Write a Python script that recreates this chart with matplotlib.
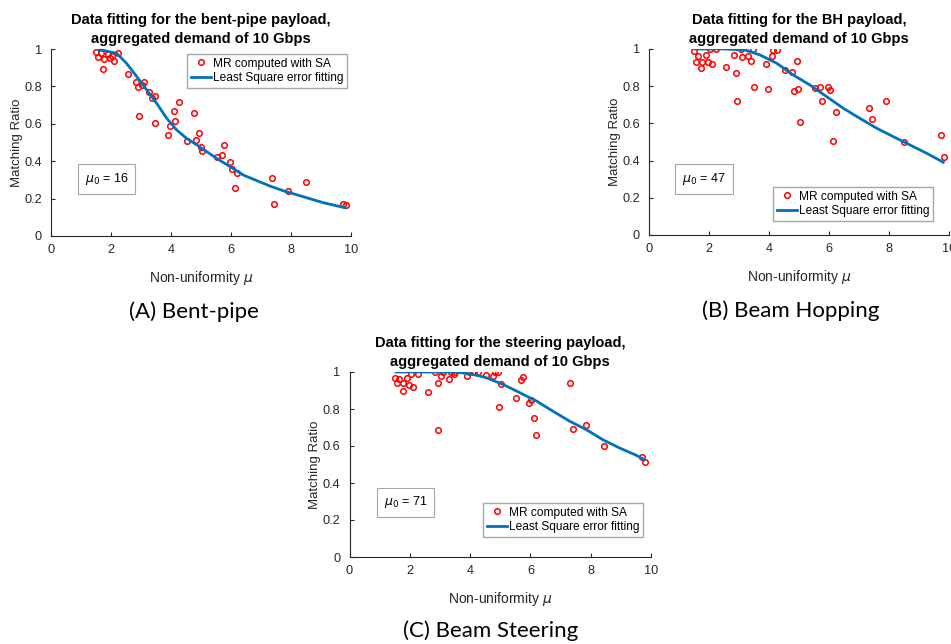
import numpy as np
import matplotlib
matplotlib.use('Agg')
import matplotlib.pyplot as plt
from matplotlib.ticker import FuncFormatter

# %% Data

# (A) bent-pipe payload
x_bp = [1.50, 1.66, 1.58, 1.90, 2.04, 1.78, 1.97, 2.11, 2.24, 1.74, 2.58, 2.83, 3.11, 3.03, 2.91,
        3.28, 3.48, 3.38, 2.92, 3.48, 4.27, 4.11, 4.77, 4.14, 3.97, 3.90, 4.54, 4.94, 4.83, 4.99,
        5.02, 5.76, 5.71, 5.54, 5.98, 6.04, 6.21, 6.12, 7.36, 7.43, 7.89, 8.49, 9.74, 9.84]
y_bp = [0.984, 0.978, 0.959, 0.973, 0.961, 0.946, 0.950, 0.935, 0.980, 0.892, 0.867, 0.826, 0.821,
        0.806, 0.799, 0.772, 0.749, 0.737, 0.642, 0.602, 0.715, 0.667, 0.656, 0.615, 0.586, 0.538,
        0.507, 0.552, 0.514, 0.475, 0.452, 0.489, 0.434, 0.421, 0.394, 0.358, 0.337, 0.258, 0.310,
        0.170, 0.242, 0.287, 0.172, 0.165]
xfit_bp = [1.52, 2.19, 2.52, 2.86, 3.19, 3.52, 3.86, 4.19, 4.52, 4.86, 5.19, 5.52, 5.97, 6.41,
           6.86, 7.30, 7.74, 8.41, 9.08, 9.80]
yfit_bp = [1.00, 0.977, 0.923, 0.852, 0.781, 0.710, 0.629, 0.567, 0.522, 0.487, 0.451, 0.415,
           0.371, 0.326, 0.296, 0.267, 0.242, 0.210, 0.178, 0.151]

# (B) beam hopping payload
x_bh = [1.51, 1.58, 1.64, 1.74, 1.78, 1.90, 1.97, 2.04, 2.11, 2.24, 2.58, 2.84, 2.91, 2.92, 3.06,
        3.11, 3.30, 3.39, 3.48, 3.49, 3.90, 3.96, 4.11, 4.14, 4.27, 4.54, 4.77, 4.93, 4.82, 4.98,
        5.02, 5.53, 5.71, 5.76, 5.98, 6.04, 6.22, 6.12, 7.34, 7.43, 7.89, 8.49, 9.74, 9.83]
y_bh = [0.989, 0.928, 0.960, 0.898, 0.928, 0.969, 0.928, 0.998, 0.919, 1.000, 0.905, 0.969, 0.871,
        0.719, 0.998, 0.959, 0.960, 0.934, 1.000, 0.794, 0.919, 0.785, 0.964, 0.995, 0.993, 0.889,
        0.878, 0.937, 0.772, 0.783, 0.607, 0.788, 0.797, 0.722, 0.795, 0.777, 0.659, 0.508, 0.683,
        0.622, 0.719, 0.500, 0.539, 0.419]
xfit_bh = [1.53, 2.50, 3.20, 3.70, 4.26, 4.81, 5.37, 5.92, 6.48, 7.03, 7.59, 8.14, 8.70, 9.26,
           9.81]
yfit_bh = [1.00, 1.00, 0.995, 0.968, 0.923, 0.860, 0.806, 0.744, 0.681, 0.627, 0.574, 0.529,
           0.484, 0.439, 0.391]

# (C) steering payload
x_st = [1.52, 1.58, 1.65, 1.76, 1.79, 1.90, 1.98, 2.05, 2.12, 2.26, 2.59, 2.84, 2.92, 2.93, 3.05,
        3.11, 3.29, 3.38, 3.47, 3.50, 3.89, 3.97, 4.10, 4.13, 4.27, 4.53, 4.75, 4.82, 4.93, 5.01,
        4.97, 5.53, 5.70, 5.74, 5.96, 6.01, 6.11, 6.20, 7.31, 7.40, 7.85, 8.45, 9.70, 9.79]
y_st = [0.969, 0.940, 0.962, 0.900, 0.940, 0.966, 0.931, 0.989, 0.920, 0.989, 0.890, 0.998, 0.940,
        0.689, 0.980, 1.000, 0.960, 1.000, 0.989, 1.000, 0.978, 1.000, 1.000, 1.000, 1.000, 0.985,
        0.980, 1.000, 1.000, 0.935, 0.810, 0.862, 0.957, 0.973, 0.833, 0.846, 0.752, 0.660, 0.938,
        0.691, 0.713, 0.600, 0.539, 0.512]
xfit_st = [1.54, 3.20, 3.60, 3.99, 4.54, 5.09, 5.65, 6.20, 6.75, 7.30, 7.85, 8.40, 8.96, 9.51,
           9.78]
yfit_st = [1.00, 1.00, 0.998, 0.991, 0.969, 0.933, 0.888, 0.843, 0.788, 0.734, 0.689, 0.634,
           0.589, 0.550, 0.526]

titles = ['Data fitting for the bent-pipe payload,\naggregated demand of 10 Gbps',
          'Data fitting for the BH payload,\naggregated demand of 10 Gbps',
          'Data fitting for the steering payload,\naggregated demand of 10 Gbps']
mu0 = [16, 47, 71]
captions = ['(A) Bent-pipe', '(B) Beam Hopping', '(C) Beam Steering']

# %% Layout (pixels in a 951x644 figure)

W, H = 951, 644
# axes: left, top, right, bottom
ax_px = [(51, 49, 351, 236), (649, 49, 949, 235), (349.5, 372, 651, 557)]
legend_ur = [(347, 54), (933, 187), (643, 503)]
box_center = [(106.7, 179.3), (704, 179), (405.5, 502.5)]
caption_xy = [(194, 312), (791, 311), (491, 631)]

col_ax = '#262626'
col_fit = '#0072BD'

plt.rcParams['font.family'] = ['Liberation Sans', 'DejaVu Sans']
plt.rcParams['mathtext.fontset'] = 'dejavusans'

fig = plt.figure(figsize=(W/100, H/100), dpi=100)

data = [(x_bp, y_bp, xfit_bp, yfit_bp),
        (x_bh, y_bh, xfit_bh, yfit_bh),
        (x_st, y_st, xfit_st, yfit_st)]

for i, (xs, ys, xf, yf) in enumerate(data):
    l, t, r, b = ax_px[i]
    ax = fig.add_axes([l/W, 1 - b/H, (r - l)/W, (b - t)/H])
    ax.plot(xs, ys, 'o', mfc='none', mec='red', ms=4, mew=1.1,
            label='MR computed with SA')
    ax.plot(xf, yf, '-', color=col_fit, lw=2, label='Least Square error fitting')
    ax.set_xlim(0, 10)
    ax.set_ylim(0, 1)
    ax.set_xticks(np.arange(0, 11, 2))
    ax.set_yticks(np.arange(0, 1.01, 0.2))
    ax.yaxis.set_major_formatter(FuncFormatter(lambda v, p: f'{v:g}'))
    ax.spines['top'].set_visible(False)
    ax.spines['right'].set_visible(False)
    for s in ['left', 'bottom']:
        ax.spines[s].set_color(col_ax)
        ax.spines[s].set_linewidth(0.8)
    ax.tick_params(direction='in', length=3, width=0.8, colors=col_ax,
                   labelsize=9.2)
    ax.tick_params(axis='x', pad=6)
    ax.tick_params(axis='y', pad=6.5)
    ax.set_xlabel(r'Non-uniformity $\mu$', fontsize=10, color=col_ax, labelpad=9)
    ax.set_ylabel('Matching Ratio', fontsize=9.5, color=col_ax, labelpad=1)
    ax.set_title(titles[i], fontsize=10.5, fontweight='bold', pad=4, linespacing=1.5)

    lx, ly = legend_ur[i]
    ax.legend(loc='upper right', bbox_to_anchor=(lx/W, 1 - ly/H),
              bbox_transform=fig.transFigure, borderaxespad=0,
              fontsize=8.6, frameon=True, fancybox=False, framealpha=1,
              edgecolor='#a6a6a6', handlelength=1.7, handletextpad=0.15,
              borderpad=0.3, labelspacing=0.2, numpoints=1)

    bx, by = box_center[i]
    fig.text(bx/W, 1 - by/H, r'$\mu_0$' + f' = {mu0[i]}', fontsize=9,
             ha='center', va='center', color='black',
             bbox=dict(boxstyle='square,pad=0.55', fc='white', ec='#a6a6a6', lw=0.8))

    cx, cy = caption_xy[i]
    fig.text(cx/W, 1 - cy/H, captions[i], fontsize=16, family=['Lato', 'DejaVu Sans'],
             ha='center', va='center', color='black')

fig.savefig('out.png', dpi=100)
